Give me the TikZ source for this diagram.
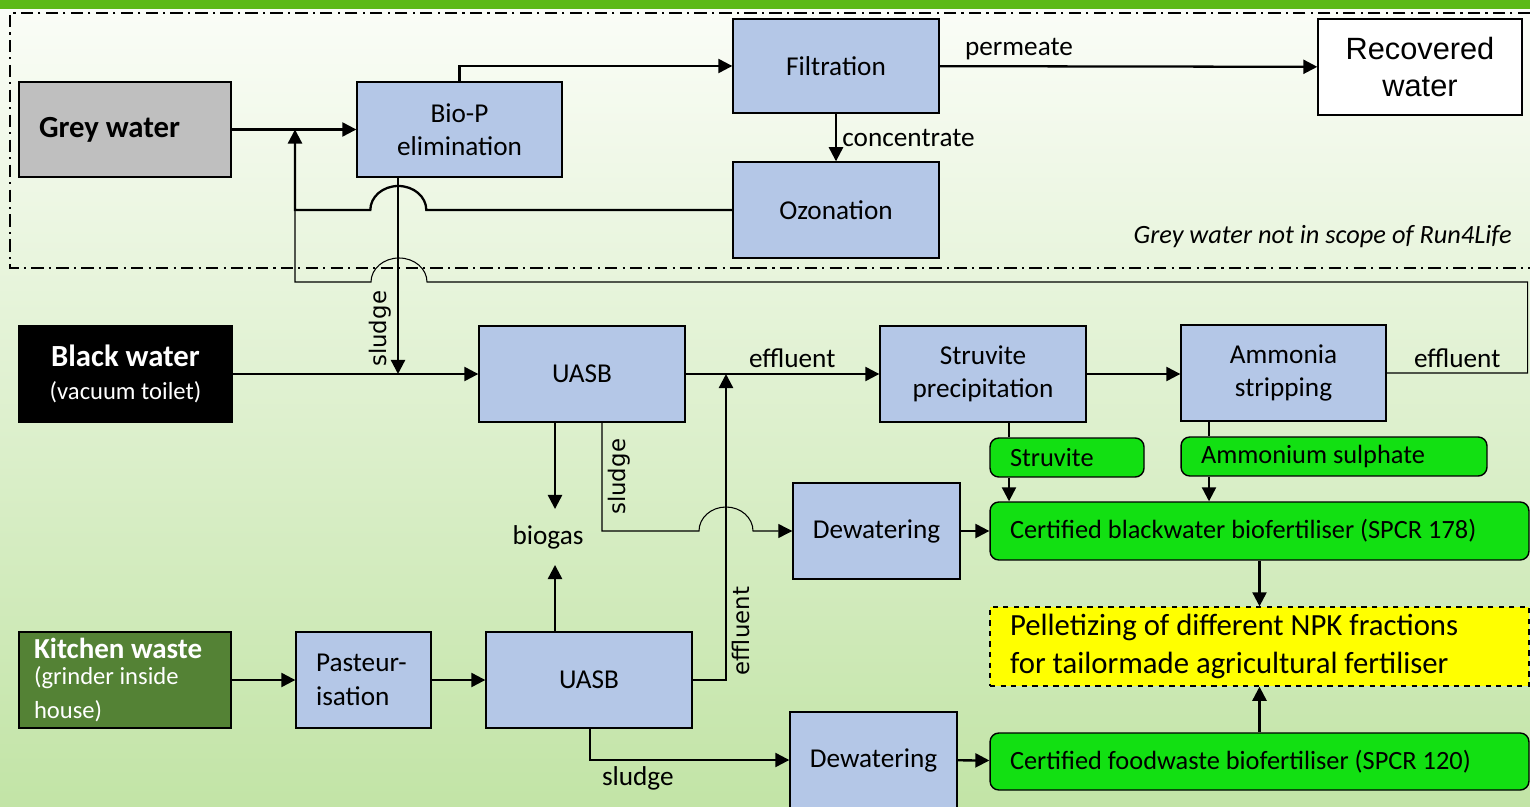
\documentclass[tikz,border=0pt]{standalone}
\usepackage{fontspec}
\setmainfont{Carlito}
\newfontfamily\arialfont{Liberation Sans}
\newfontfamily\verdfont{DejaVu Sans}
\usepackage{tikz}
\usetikzlibrary{arrows.meta, positioning, calc}
\definecolor{procblue}{HTML}{B4C7E7}
\definecolor{greyfill}{HTML}{BFBFBF}
\definecolor{kitchfill}{HTML}{548235}
\definecolor{fertgreen}{HTML}{12E012}
\definecolor{pelletyel}{HTML}{FFFF00}
\definecolor{topbar}{HTML}{5CBA17}
\definecolor{bgtop}{HTML}{FBFDF8}
\definecolor{bgbot}{HTML}{C2E4A6}

\begin{document}
\begin{tikzpicture}[x=0.02cm, y=-0.02cm,
  box/.style={draw, line width=0.8pt, fill=procblue, align=center, inner sep=2pt, font=\fontsize{15.5}{19}\selectfont},
  gbox/.style={draw, line width=0.8pt, fill=fertgreen, rounded corners=5pt, align=flush left, inner xsep=0.4cm, inner ysep=2pt, font=\fontsize{15}{18}\selectfont},
  tip/.style={-{Triangle[length=8pt,width=8pt]}},
  flow/.style={line width=1.3pt, tip},
  thinflow/.style={line width=0.6pt},
  lbl/.style={inner sep=3pt, font=\fontsize{15.5}{19}\selectfont},
  vlbl/.style={rotate=90, inner sep=3pt, font=\verdfont\fontsize{13}{15}\selectfont}]

\useasboundingbox (0,0) rectangle (1530,807);
\shade[top color=bgtop, bottom color=bgbot] (0,0) rectangle (1530,807);
\fill[topbar] (0,0) rectangle (1530,9);
\draw[line width=0.9pt, dash pattern=on 7pt off 3pt on 1.2pt off 3pt] (1530,13) -- (10,13) -- (10,268) -- (1530,268);
\node[anchor=east, inner sep=0pt, font=\itshape\fontsize{15}{18}\selectfont] (scope) at (1512,237) {Grey water not in scope of Run4Life};

\coordinate (rj) at (295,129.5);
\coordinate (sjx) at (398,0);
\coordinate (slx) at (602,0);
\coordinate (bgx) at (555,0);
\coordinate (effj) at (726,374);
\coordinate (stx) at (1009,0);
\coordinate (amx) at (1209,0);

% grey water line
\node[box, fill=greyfill, align=flush left, text width=3.44cm, inner xsep=0.4cm, minimum height=1.9cm, font=\bfseries\fontsize{17.5}{21}\selectfont] (grey) at (125,129.5) {Grey water};
\node[box, minimum width=4.1cm, minimum height=1.9cm] (biop) at (459.5,129.5) {Bio-P\\elimination};
\node[box, minimum width=4.12cm, minimum height=1.88cm] (filt) at (836,66) {Filtration};
\node[box, minimum width=4.12cm, minimum height=1.92cm] (ozon) at (836,210) {Ozonation};
\node[box, fill=white, minimum width=4.08cm, minimum height=1.92cm, font=\arialfont\fontsize{17.5}{21.5}\selectfont] (recov) at (1420,67) {Recovered\\water};

% black water line
\node[box, fill=black, text=white, minimum width=4.26cm, minimum height=1.92cm] (black) at (125.5,374) {{\bfseries\fontsize{17.5}{21}\selectfont Black water}\\{\fontsize{14}{18}\selectfont (vacuum toilet)}};
\node[box, minimum width=4.12cm, minimum height=1.92cm] (uasbA) at (582,374) {UASB};
\node[box, minimum width=4.12cm, minimum height=1.92cm] (struv) at (983,374) {Struvite\\precipitation};
\node[box, minimum width=4.1cm, minimum height=1.92cm] (ammon) at (1283.5,373) {Ammonia\\stripping};
\node[gbox, text width=2.28cm, minimum height=0.78cm] (struvite) at (1067,457.5) {Struvite};
\node[gbox, text width=5.32cm, minimum height=0.78cm] (amsulph) at (1334,456.5) {Ammonium sulphate};
\node[box, minimum width=3.34cm, minimum height=1.92cm] (dewA) at (876.5,531) {Dewatering};
\node[gbox, text width=9.98cm, minimum height=1.16cm] (certbw) at (1259.5,531) {Certified blackwater biofertiliser (SPCR 178)};
\node[lbl, inner ysep=9pt] (biogas) at (548,537) {biogas};

% kitchen waste line
\node[box, fill=kitchfill, text=white, align=flush left, text width=3.64cm, inner xsep=0.3cm, minimum height=1.92cm] (kitchen) at (125,680) {{\bfseries\fontsize{16.5}{19}\selectfont Kitchen waste}\\{\fontsize{14}{15}\selectfont (grinder inside\\house)}};
\node[box, align=flush left, text width=1.9cm, inner xsep=0.4cm, minimum height=1.92cm] (past) at (363.5,680) {Pasteur-\\isation};
\node[box, minimum width=4.12cm, minimum height=1.92cm] (uasbB) at (589,680) {UASB};
\node[box, minimum width=3.34cm, minimum height=1.92cm] (dewB) at (873.5,760) {Dewatering};
\node[gbox, text width=9.98cm, minimum height=1.14cm] (certfw) at (1259.5,761.5) {Certified foodwaste biofertiliser (SPCR 120)};
\node[gbox, fill=pelletyel, dashed, rounded corners=0pt, text width=9.98cm, minimum height=1.58cm, font=\fontsize{17.5}{21.5}\selectfont] (pellet) at (1259.5,646.5) {Pelletizing of different NPK fractions\\for tailormade agricultural fertiliser};

% connectors
\draw[flow] (grey) -- (biop);
\draw[flow] (biop.north) |- (filt.west);
\draw[flow] (filt) -- node[lbl, pos=0.21, above] {permeate} (recov);
\draw[flow] (filt) -- node[lbl, midway, right] {concentrate} (ozon);
\draw[flow] (ozon.west) -- ++(-306,0) arc[start angle=0, end angle=-180, x radius=28, y radius=24] -- (rj |- ozon.west) -- (rj);
\draw[thinflow] (ammon.east) -- node[lbl, midway, above] {effluent} ++(141,0) -- ++(0,-91) -- (427,282) arc[start angle=0, end angle=-180, x radius=28, y radius=24] -- (295,282) -- (rj |- ozon.west);
\draw[flow] (biop.south -| sjx) -- node[vlbl, pos=0.77, anchor=south] {sludge} (sjx |- black.east);
\draw[flow] (black) -- (uasbA);
\draw[flow] (uasbA) -- node[lbl, pos=0.55, above] {effluent} (struv);
\draw[flow] (struv.east |- effj) -- (ammon.west |- effj);
\draw[flow] (uasbA.south -| bgx) -- (bgx |- biogas.north);
\draw[flow] (uasbB.north -| bgx) -- (bgx |- biogas.south);
\draw[thinflow, tip] (uasbA.south -| slx) -- node[vlbl, midway, anchor=north] {sludge} (slx |- dewA.west) -- ++(97,0) arc[start angle=180, end angle=360, x radius=27, y radius=24] -- (dewA.west);
\draw[flow] (uasbB.east) -| node[vlbl, pos=0.58, anchor=north] {effluent} (effj);
\draw[flow] (dewA) -- (certbw);
\draw[line width=1.3pt] (struv.south -| stx) -- (struvite.north -| stx);
\draw[flow] (struvite.south -| stx) -- (certbw.north -| stx);
\draw[line width=1.3pt] (ammon.south -| amx) -- (amsulph.north -| amx);
\draw[flow] (amsulph.south -| amx) -- (certbw.north -| amx);
\draw[flow] (certbw) -- (pellet);
\draw[flow] (certfw) -- (pellet);
\draw[flow] (kitchen) -- (past);
\draw[flow] (past) -- (uasbB);
\draw[flow] ([xshift=0.02cm]uasbB.south) |- node[lbl, pos=0.62, below] {sludge} (dewB.west);
\draw[flow] (dewB) -- (certfw);

\end{tikzpicture}
\end{document}
